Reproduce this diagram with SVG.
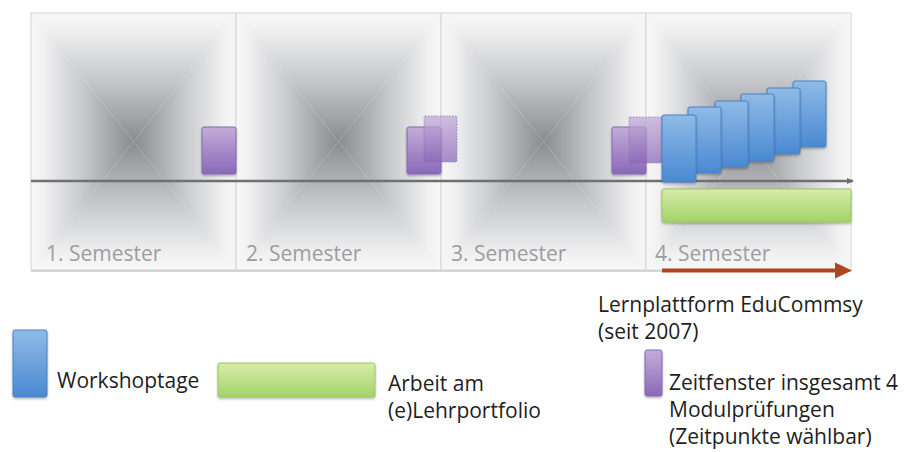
<svg xmlns="http://www.w3.org/2000/svg" width="911" height="452" viewBox="0 0 911 452">
<defs>
<linearGradient id="gT" x1="0" y1="0" x2="0" y2="1"><stop offset="0" stop-color="#f7f7f7"/><stop offset="0.12" stop-color="#f1f1f2"/><stop offset="0.5" stop-color="#c9cacc"/><stop offset="1" stop-color="#8a8c90"/></linearGradient>
<linearGradient id="gB" x1="0" y1="1" x2="0" y2="0"><stop offset="0" stop-color="#f7f7f7"/><stop offset="0.12" stop-color="#f1f1f2"/><stop offset="0.5" stop-color="#c9cacc"/><stop offset="1" stop-color="#8a8c90"/></linearGradient>
<linearGradient id="gL" x1="0" y1="0" x2="1" y2="0"><stop offset="0" stop-color="#f7f7f7"/><stop offset="0.12" stop-color="#f1f1f2"/><stop offset="0.5" stop-color="#c9cacc"/><stop offset="1" stop-color="#8a8c90"/></linearGradient>
<linearGradient id="gR" x1="1" y1="0" x2="0" y2="0"><stop offset="0" stop-color="#f7f7f7"/><stop offset="0.12" stop-color="#f1f1f2"/><stop offset="0.5" stop-color="#c9cacc"/><stop offset="1" stop-color="#8a8c90"/></linearGradient>
<linearGradient id="gPurple" x1="0" y1="0" x2="0" y2="1"><stop offset="0" stop-color="#c3acd9"/><stop offset="1" stop-color="#8a69b8"/></linearGradient>
<linearGradient id="gBlue" x1="0" y1="0" x2="0" y2="1"><stop offset="0" stop-color="#8fbbe7"/><stop offset="1" stop-color="#4a89d2"/></linearGradient>
<linearGradient id="gGreen" x1="0" y1="0" x2="0" y2="1"><stop offset="0" stop-color="#d8ecaa"/><stop offset="1" stop-color="#a3d368"/></linearGradient>
<filter id="sh" x="-20%" y="-20%" width="140%" height="140%"><feDropShadow dx="0" dy="1.5" stdDeviation="1.2" flood-color="#000" flood-opacity="0.3"/></filter>
<marker id="mGray" markerWidth="8" markerHeight="8" refX="6" refY="3" orient="auto" markerUnits="userSpaceOnUse"><path d="M0,0 L7,3 L0,6 z" fill="#6f7072"/></marker>
<style>
.lbl{font-family:"Open Sans","Liberation Sans",sans-serif;font-size:21px;fill:#1e1e1e}
.sem{font-family:"Open Sans","Liberation Sans",sans-serif;font-size:21px;fill:#9d9d9f}
.pb{fill:url(#gPurple);stroke:#8469b3;stroke-width:1;filter:url(#sh)}
.pt{fill:url(#gPurple);stroke:#8469b3;stroke-width:1;stroke-dasharray:1.5 1.5;opacity:0.75}
.bb{fill:url(#gBlue);stroke:#4a80c6;stroke-width:1;filter:url(#sh)}
.gb{fill:url(#gGreen);stroke:#96c65c;stroke-width:1;filter:url(#sh)}
.border{fill:none;stroke:#d4d4d6;stroke-width:1}
</style>
</defs>
<rect width="911" height="452" fill="#ffffff"/>

<g id="panel1">
<polygon points="31,13 236,13 133.5,141.5" fill="url(#gT)"/>
<polygon points="31,270 236,270 133.5,141.5" fill="url(#gB)"/>
<polygon points="31,13 31,270 133.5,141.5" fill="url(#gL)"/>
<polygon points="236,13 236,270 133.5,141.5" fill="url(#gR)"/>
<rect class="border" x="31" y="13" width="205" height="257"/>
<text class="sem" x="46" y="261">1. Semester</text>
</g>
<g id="panel2">
<polygon points="236,13 441,13 338.5,141.5" fill="url(#gT)"/>
<polygon points="236,270 441,270 338.5,141.5" fill="url(#gB)"/>
<polygon points="236,13 236,270 338.5,141.5" fill="url(#gL)"/>
<polygon points="441,13 441,270 338.5,141.5" fill="url(#gR)"/>
<rect class="border" x="236" y="13" width="205" height="257"/>
<text class="sem" x="246" y="261">2. Semester</text>
</g>
<g id="panel3">
<polygon points="441,13 646,13 543.5,141.5" fill="url(#gT)"/>
<polygon points="441,270 646,270 543.5,141.5" fill="url(#gB)"/>
<polygon points="441,13 441,270 543.5,141.5" fill="url(#gL)"/>
<polygon points="646,13 646,270 543.5,141.5" fill="url(#gR)"/>
<rect class="border" x="441" y="13" width="205" height="257"/>
<text class="sem" x="451" y="261">3. Semester</text>
</g>
<g id="panel4">
<polygon points="646,13 851,13 748.5,141.5" fill="url(#gT)"/>
<polygon points="646,270 851,270 748.5,141.5" fill="url(#gB)"/>
<polygon points="646,13 646,270 748.5,141.5" fill="url(#gL)"/>
<polygon points="851,13 851,270 748.5,141.5" fill="url(#gR)"/>
<rect class="border" x="646" y="13" width="205" height="257"/>
<text class="sem" x="655" y="261">4. Semester</text>
</g>
<line x1="31" y1="271" x2="851" y2="271" stroke="#c8c8ca" stroke-width="1.5"/>

<g id="connectors">
<line x1="31" y1="181" x2="853" y2="181" stroke="#6f7072" stroke-width="2.5" marker-end="url(#mGray)"/>
<line x1="662" y1="270.5" x2="838" y2="270.5" stroke="#b0461d" stroke-width="4"/>
<polygon points="835,262.5 852,270.5 835,278.5" fill="#b0461d"/>
</g>

<g id="exam1"><rect class="pb" x="202" y="127" width="34" height="47" rx="2"/></g>
<g id="exam2">
<rect class="pb" x="407" y="127" width="34" height="47" rx="2"/>
<rect class="pt" x="424" y="116" width="33" height="46" rx="1"/>
</g>
<g id="exam3">
<rect class="pb" x="612" y="127" width="34" height="47" rx="2"/>
<rect class="pt" x="629" y="117" width="33" height="46" rx="1"/>
</g>

<g id="portfolio"><rect class="gb" x="662" y="189" width="189" height="33" rx="2"/></g>

<g id="workshops">
<rect class="bb" x="793" y="81" width="33" height="66" rx="2"/>
<rect class="bb" x="767" y="88" width="33" height="66" rx="2"/>
<rect class="bb" x="741" y="94" width="33" height="67" rx="2"/>
<rect class="bb" x="715" y="101" width="33" height="66" rx="2"/>
<rect class="bb" x="688" y="107" width="33" height="66" rx="2"/>
<rect class="bb" x="662" y="115" width="34" height="67" rx="2"/>
</g>

<g id="lernplattform-label">
<text class="lbl" x="598" y="312">Lernplattform EduCommsy</text>
<text class="lbl" x="598" y="339">(seit 2007)</text>
</g>

<g id="legend-workshop">
<rect class="bb" x="13" y="330" width="34" height="67" rx="2"/>
<text class="lbl" x="57" y="388">Workshoptage</text>
</g>
<g id="legend-portfolio">
<rect class="gb" x="218" y="363" width="157" height="34" rx="2"/>
<text class="lbl" x="388" y="391">Arbeit am</text>
<text class="lbl" x="388" y="418">(e)Lehrportfolio</text>
</g>
<g id="legend-exam">
<rect class="pb" x="645" y="350" width="17" height="46" rx="2"/>
<text class="lbl" x="669" y="390">Zeitfenster insgesamt 4</text>
<text class="lbl" x="669" y="417">Modulprüfungen</text>
<text class="lbl" x="669" y="444">(Zeitpunkte wählbar)</text>
</g>
</svg>
